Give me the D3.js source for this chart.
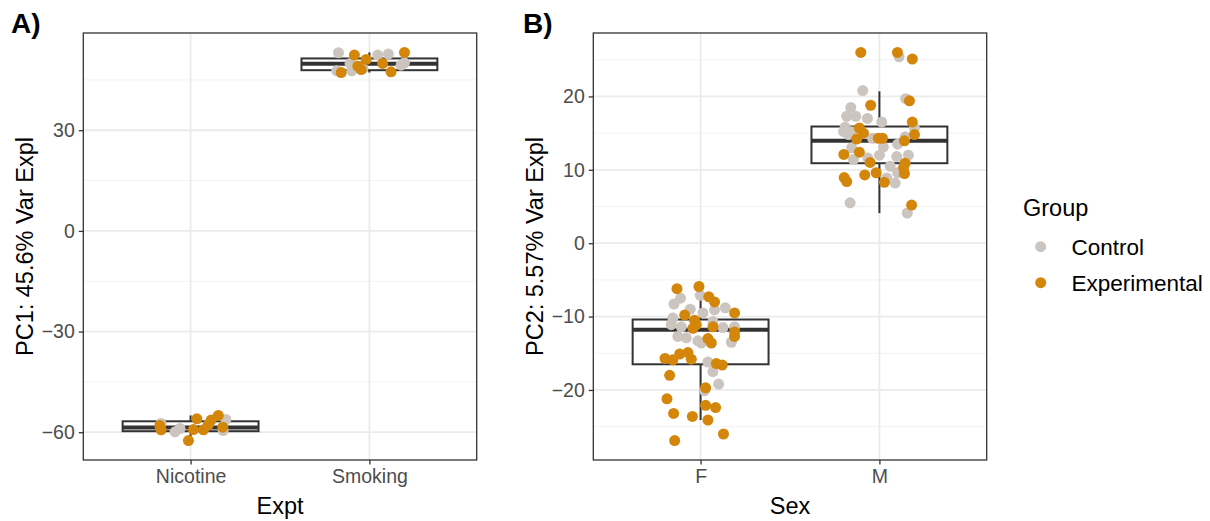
<!DOCTYPE html>
<html>
<head>
<meta charset="utf-8">
<script src="https://cdn.jsdelivr.net/npm/d3@7"></script>
<style>
  html, body { margin: 0; padding: 0; background: #fff; }
  svg { display: block; font-family: "Liberation Sans", Arial, Helvetica, sans-serif; }
</style>
</head>
<body>
<svg id="chart" width="1210" height="521"></svg>
<script>
// ---- categories and labels ----
const exptCategories = ["Nicotine", "Smoking"];
const sexCategories = ["F", "M"];
const groupNames = ["Control", "Experimental"];
const exptTicks = [-60, -30, 0, 30];
const sexTicks = [-20, -10, 0, 10, 20];

// ---- PC1 by experiment: values and horizontal jitter (category units) ----
const nicotineControlPC1 = [-57.4, -59.9, -58.9, -56.2, -59.5];
const nicotineControlJit = [-0.166, -0.087, -0.059, 0.197, 0.182];
const nicotineExpPC1 = [-58.0, -59.3, -62.5, -56.0, -59.2, -59.3, -56.4, -55.0, -57.7, -58.5];
const nicotineExpJit = [-0.172, -0.165, -0.012, 0.035, 0.016, 0.072, 0.115, 0.155, 0.099, 0.180];
const smokingControlPC1 = [53.1, 52.4, 52.7, 49.4, 49.9, 47.7, 47.7, 48.4, 50.1];
const smokingControlJit = [-0.173, 0.046, 0.106, 0.177, -0.108, -0.183, -0.099, -0.037, 0.196];
const smokingExpPC1 = [52.4, 53.2, 51.1, 49.1, 48.1, 49.9, 47.4, 47.2];
const smokingExpJit = [-0.084, 0.196, -0.018, -0.065, -0.046, 0.074, 0.121, -0.158];

// ---- PC2 by sex: values and horizontal jitter (category units) ----
const femaleControlPC2 = [-7.1, -7.5, -8.3, -9.0, -9.1, -8.8, -9.5, -10.2, -10.7, -11.1, -11.4,
  -11.5, -11.4, -12.7, -12.9, -13.3, -13.6, -13.5, -16.2, -17.5, -19.2, -20.1];
const femaleControlJit = [-0.002, -0.112, -0.149, -0.058, 0.078, 0.138, 0.013, -0.155, 0.069, -0.164, -0.108,
  0.125, 0.190, -0.127, -0.080, -0.015, 0.004, 0.172, 0.041, 0.069, 0.101, 0.022];
const femaleExpPC2 = [-6.2, -5.9, -7.3, -8.0, -9.5, -9.8, -10.5, -11.1, -11.4, -11.6, -12.1, -12.7,
  -13.0, -13.6, -15.7, -15.9, -15.1, -14.9, -15.8, -16.4, -16.6, -18.0, -19.7, -21.2, -22.1,
  -22.4, -23.2, -23.6, -24.1, -26.0, -26.9];
const femaleExpJit = [-0.132, -0.009, 0.046, 0.078, 0.190, -0.089, -0.034, -0.024, 0.069, -0.043, 0.190, 0.190,
  0.041, 0.060, -0.199, -0.155, -0.117, -0.071, -0.052, 0.088, 0.121, -0.173, 0.028, -0.188, 0.028,
  0.084, -0.151, -0.046, 0.041, 0.128, -0.145];
const maleControlPC2 = [25.4, 20.8, 19.7, 18.5, 17.3, 17.3, 17.0, 16.5, 15.7, 15.8, 15.2, 14.8, 15.2,
  14.3, 14.5, 13.1, 13.5, 13.0, 11.4, 11.6, 12.0, 11.8, 12.0, 10.5, 9.6, 8.9, 8.2, 5.5, 4.1];
const maleControlJit = [0.110, -0.093, 0.147, -0.160, -0.183, -0.132, -0.067, 0.013, 0.196, -0.192, -0.200, -0.173, -0.155,
  -0.039, 0.144, 0.022, 0.102, -0.155, -0.145, -0.065, 0.000, 0.097, 0.162, 0.060, 0.102, 0.041, 0.088, -0.164, 0.156];
const maleExpPC2 = [26.0, 26.0, 25.1, 18.8, 19.4, 16.5, 14.8, 15.7, 15.0, 14.2, 14.3, 14.3, 13.95,
  12.4, 12.1, 11.0, 10.9, 9.3, 9.6, 9.5, 8.3, 8.95, 8.4, 5.2, 10.3];
const maleExpJit = [-0.104, 0.101, 0.184, -0.049, 0.168, 0.184, 0.196, -0.112, -0.089, -0.127, -0.006, 0.017, 0.140,
  -0.112, -0.199, -0.052, 0.144, -0.082, -0.018, 0.140, 0.028, -0.197, -0.183, 0.180, 0.135];

// ---- box summaries (lower whisker, Q1, median, Q3, upper whisker) ----
const exptLower = [-62.5, 47.2];
const exptQ1 = [-59.7, 47.9];
const exptMedian = [-58.6, 49.8];
const exptQ3 = [-56.75, 51.4];
const exptUpper = [-55.0, 53.2];
const sexLower = [-24.1, 4.1];
const sexQ1 = [-16.5, 10.9];
const sexMedian = [-11.8, 13.95];
const sexQ3 = [-10.4, 15.9];
const sexUpper = [-5.9, 20.7];

const groupColors = { Control: "#CCC4BF", Experimental: "#D4860B" };

function rows(cat, group, vals, jit) {
  return vals.map((v, i) => ({ cat, group, value: v, jitter: jit[i] }));
}

const panelAPoints = [
  ...rows("Nicotine", "Control", nicotineControlPC1, nicotineControlJit),
  ...rows("Smoking", "Control", smokingControlPC1, smokingControlJit),
  ...rows("Nicotine", "Experimental", nicotineExpPC1, nicotineExpJit),
  ...rows("Smoking", "Experimental", smokingExpPC1, smokingExpJit)
];
const panelBPoints = [
  ...rows("F", "Control", femaleControlPC2, femaleControlJit),
  ...rows("M", "Control", maleControlPC2, maleControlJit),
  ...rows("F", "Experimental", femaleExpPC2, femaleExpJit),
  ...rows("M", "Experimental", maleExpPC2, maleExpJit)
];

const svg = d3.select("#chart");
const tickFont = "19.5px";
const titleFont = "23.5px";

function drawPanel(opts) {
  const { left, right, top, bottom, cats, points, ticks, minorTicks, lower, q1, med, q3, upper,
          tag, yTitle, xTitle, yTitleX, tagX } = opts;
  const g = svg.append("g");

  const ext = d3.extent(points, d => d.value);
  const pad = (ext[1] - ext[0]) * 0.05;
  const y = d3.scaleLinear().domain([ext[0] - pad, ext[1] + pad]).range([bottom, top]);
  const x = d3.scalePoint().domain(cats).range([left, right]).padding(0.6);
  const step = x.step();

  // grid
  g.selectAll(".minor").data(minorTicks).join("line")
    .attr("x1", left).attr("x2", right)
    .attr("y1", d => y(d)).attr("y2", d => y(d))
    .attr("stroke", "#F2F2F2").attr("stroke-width", 1);
  g.selectAll(".major").data(ticks).join("line")
    .attr("x1", left).attr("x2", right)
    .attr("y1", d => y(d)).attr("y2", d => y(d))
    .attr("stroke", "#EBEBEB").attr("stroke-width", 1.8);
  g.selectAll(".vmajor").data(cats).join("line")
    .attr("x1", d => x(d)).attr("x2", d => x(d))
    .attr("y1", top).attr("y2", bottom)
    .attr("stroke", "#EBEBEB").attr("stroke-width", 1.8);

  // boxes
  const boxW = step * 0.76;
  const boxes = cats.map((c, i) => ({ c, lo: lower[i], q1: q1[i], med: med[i], q3: q3[i], hi: upper[i] }));
  const bg = g.selectAll(".box").data(boxes).join("g");
  bg.append("line").attr("x1", d => x(d.c)).attr("x2", d => x(d.c))
    .attr("y1", d => y(d.q3)).attr("y2", d => y(d.hi))
    .attr("stroke", "#333").attr("stroke-width", 2);
  bg.append("line").attr("x1", d => x(d.c)).attr("x2", d => x(d.c))
    .attr("y1", d => y(d.q1)).attr("y2", d => y(d.lo))
    .attr("stroke", "#333").attr("stroke-width", 2);
  bg.append("rect")
    .attr("x", d => x(d.c) - boxW / 2).attr("width", boxW)
    .attr("y", d => y(d.q3)).attr("height", d => y(d.q1) - y(d.q3))
    .attr("fill", "#fff").attr("stroke", "#333").attr("stroke-width", 2);
  bg.append("line")
    .attr("x1", d => x(d.c) - boxW / 2).attr("x2", d => x(d.c) + boxW / 2)
    .attr("y1", d => y(d.med)).attr("y2", d => y(d.med))
    .attr("stroke", "#333").attr("stroke-width", 4);

  // jittered points
  g.selectAll(".pt").data(points).join("circle")
    .attr("cx", d => x(d.cat) + d.jitter * step)
    .attr("cy", d => y(d.value))
    .attr("r", 5.5)
    .attr("fill", d => groupColors[d.group]);

  // panel border
  g.append("rect").attr("x", left).attr("y", top)
    .attr("width", right - left).attr("height", bottom - top)
    .attr("fill", "none").attr("stroke", "#333").attr("stroke-width", 1.3);

  // y axis
  const yAxis = d3.axisLeft(y).tickValues(ticks).tickSize(4.5).tickPadding(4)
    .tickFormat(d => d < 0 ? "\u2212" + Math.abs(d) : String(d));
  const ya = g.append("g").attr("transform", `translate(${left},0)`).call(yAxis);
  ya.select(".domain").remove();
  ya.selectAll(".tick line").attr("stroke", "#333").attr("stroke-width", 1.3);
  ya.selectAll(".tick text").attr("fill", "#4D4D4D").style("font-size", tickFont)
    .style("font-family", "Liberation Sans, Arial, sans-serif");

  // x axis
  const xAxis = d3.axisBottom(x).tickSize(4.5).tickPadding(5);
  const xa = g.append("g").attr("transform", `translate(0,${bottom})`).call(xAxis);
  xa.select(".domain").remove();
  xa.selectAll(".tick line").attr("stroke", "#333").attr("stroke-width", 1.3);
  xa.selectAll(".tick text").attr("fill", "#4D4D4D").style("font-size", tickFont)
    .style("font-family", "Liberation Sans, Arial, sans-serif");

  // titles
  g.append("text").attr("x", (left + right) / 2).attr("y", 514)
    .attr("text-anchor", "middle").style("font-size", titleFont).attr("fill", "#000").text(xTitle);
  g.append("text")
    .attr("transform", `translate(${yTitleX},${(top + bottom) / 2}) rotate(-90)`)
    .attr("text-anchor", "middle").attr("dy", "0.35em")
    .style("font-size", titleFont).attr("fill", "#000").text(yTitle);
  g.append("text").attr("x", tagX).attr("y", 33)
    .style("font-size", "28px").style("font-weight", "bold").attr("fill", "#000").text(tag);
}

drawPanel({
  left: 83.3, right: 476.7, top: 33, bottom: 460,
  cats: exptCategories, points: panelAPoints,
  ticks: exptTicks, minorTicks: [-45, -15, 15, 45],
  lower: exptLower, q1: exptQ1, med: exptMedian, q3: exptQ3, upper: exptUpper,
  tag: "A)", yTitle: "PC1: 45.6% Var Expl", xTitle: "Expt", yTitleX: 25, tagX: 11
});

drawPanel({
  left: 593.3, right: 986.7, top: 33, bottom: 460,
  cats: sexCategories, points: panelBPoints,
  ticks: sexTicks, minorTicks: [-25, -15, -5, 5, 15, 25],
  lower: sexLower, q1: sexQ1, med: sexMedian, q3: sexQ3, upper: sexUpper,
  tag: "B)", yTitle: "PC2: 5.57% Var Expl", xTitle: "Sex", yTitleX: 535, tagX: 523
});

// legend
const legend = svg.append("g");
legend.append("text").attr("x", 1023).attr("y", 216)
  .style("font-size", titleFont).attr("fill", "#000").text("Group");
const items = legend.selectAll(".item").data(groupNames).join("g")
  .attr("transform", (d, i) => `translate(0,${246.7 + i * 36})`);
items.append("circle").attr("cx", 1040.7).attr("cy", 0).attr("r", 5.5)
  .attr("fill", d => groupColors[d]);
items.append("text").attr("x", 1071.5).attr("y", 0).attr("dy", "0.35em")
  .style("font-size", "22.5px").attr("fill", "#000").text(d => d);
</script>
</body>
</html>
